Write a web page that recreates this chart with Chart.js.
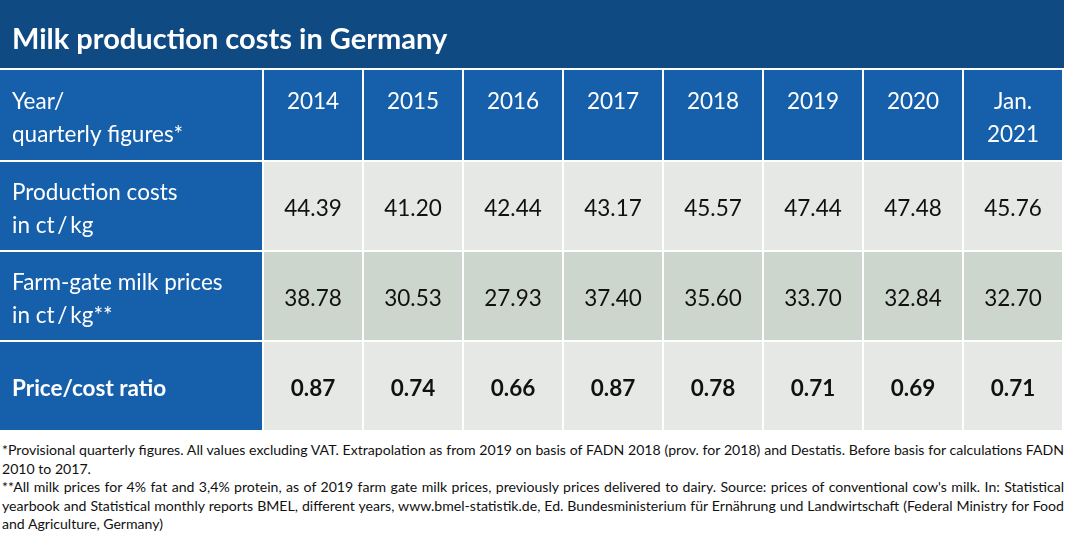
<!DOCTYPE html>
<html><head><meta charset="utf-8">
<script src="https://cdn.jsdelivr.net/npm/chart.js@4"></script>
<style>
body{margin:0;background:#fff;font-family:Lato,"Open Sans",sans-serif;}
#wrap{position:absolute;left:0;top:0;width:1067px;height:432px;}
#notes{position:absolute;left:2px;top:441px;width:1062px;font-size:14.1px;line-height:18.6px;color:#111;text-align:justify;}
</style></head><body>
<div id="wrap"><canvas id="tbl"></canvas></div>
<div id="notes">*Provisional quarterly figures. All values excluding VAT. Extrapolation as from 2019 on basis of FADN 2018 (prov. for 2018) and Destatis. Before basis for calculations FADN 2010 to 2017.<br>**All milk prices for 4% fat and 3,4% protein, as of 2019 farm gate milk prices, previously prices delivered to dairy. Source: prices of conventional cow's milk. In: Statistical yearbook and Statistical monthly reports BMEL, different years, www.bmel-statistik.de, Ed. Bundesministerium für Ernährung und Landwirtschaft (Federal Ministry for Food and Agriculture, Germany)</div>
<script>
const title = "Milk production costs in Germany";
const years = ["2014", "2015", "2016", "2017", "2018", "2019", "2020", "Jan.\n2021"];
const rowLabels = ["Year/\nquarterly figures*", "Production costs\nin ct\u2009/\u2009kg", "Farm-gate milk prices\nin ct\u2009/\u2009kg**", "Price/cost ratio"];
const costs = [44.39, 41.20, 42.44, 43.17, 45.57, 47.44, 47.48, 45.76];
const prices = [38.78, 30.53, 27.93, 37.40, 35.60, 33.70, 32.84, 32.70];
const ratio = [0.87, 0.74, 0.66, 0.87, 0.78, 0.71, 0.69, 0.71];

const xEdges = [0, 264, 364, 464, 564, 664, 764, 864, 964, 1064];
const yEdges = [0, 70, 162, 252, 342, 432];
const gap = 2;

const tablePlugin = {
  id: 'tablePlugin',
  afterDraw(chart) {
    const c = chart.ctx, X = chart.scales.x, Y = chart.scales.y;
    const px = v => X.getPixelForValue(v), py = v => Y.getPixelForValue(v);
    // title bar
    c.fillStyle = '#0f4a82';
    c.fillRect(px(0), py(0), px(1064) - px(0), py(68) - py(0));
    c.fillStyle = '#fff';
    c.font = 'bold 29px Lato';
    c.textBaseline = 'middle';
    c.fillText(title, px(12), py(40));
    const rows = [years, costs.map(v => v.toFixed(2)), prices.map(v => v.toFixed(2)), ratio.map(v => v.toFixed(2))];
    const bgs = ['#1660ab', '#e5e8e4', '#cdd6cd', '#e5e8e4'];
    rows.forEach((vals, r) => {
      const y0 = py(yEdges[r + 1]), y1 = py(yEdges[r + 2] - gap);
      const cy = (y0 + y1) / 2 + 3;
      // label cell
      c.fillStyle = '#1660ab';
      c.fillRect(px(xEdges[0]), y0, px(xEdges[1] - gap) - px(xEdges[0]), y1 - y0);
      c.fillStyle = '#fff';
      c.textAlign = 'left';
      c.font = (r === 3 ? 'bold ' : '') + '22.5px Lato';
      const lines = rowLabels[r].split('\n');
      lines.forEach((t, i) => c.fillText(t, px(12), cy + (i - (lines.length - 1) / 2) * 33));
      vals.forEach((v, i) => {
        const x0 = px(xEdges[i + 1]), x1 = px(xEdges[i + 2] - gap);
        c.fillStyle = bgs[r];
        c.fillRect(x0, y0, x1 - x0, y1 - y0);
        c.fillStyle = r === 0 ? '#fff' : '#111';
        c.textAlign = 'center';
        c.font = (r === 3 ? 'bold ' : '') + '22.5px Lato';
        const ls = String(v).split('\n');
        // header cells: top-aligned with first line of the row label
        const top = r === 0 ? cy - 16.5 : cy - (ls.length - 1) * 16.5;
        ls.forEach((t, k) => c.fillText(t, (x0 + x1) / 2, top + k * 33));
      });
    });
  }
};

new Chart(document.getElementById('tbl'), {
  type: 'scatter',
  data: { datasets: [{ data: [] }] },
  options: {
    responsive: true, maintainAspectRatio: false, animation: false,
    layout: { padding: 0 },
    plugins: { legend: { display: false }, tooltip: { enabled: false } },
    scales: {
      x: { type: 'linear', min: 0, max: 1067, display: false },
      y: { type: 'linear', min: 0, max: 432, reverse: true, display: false }
    }
  },
  plugins: [tablePlugin]
});
</script>
</body></html>
